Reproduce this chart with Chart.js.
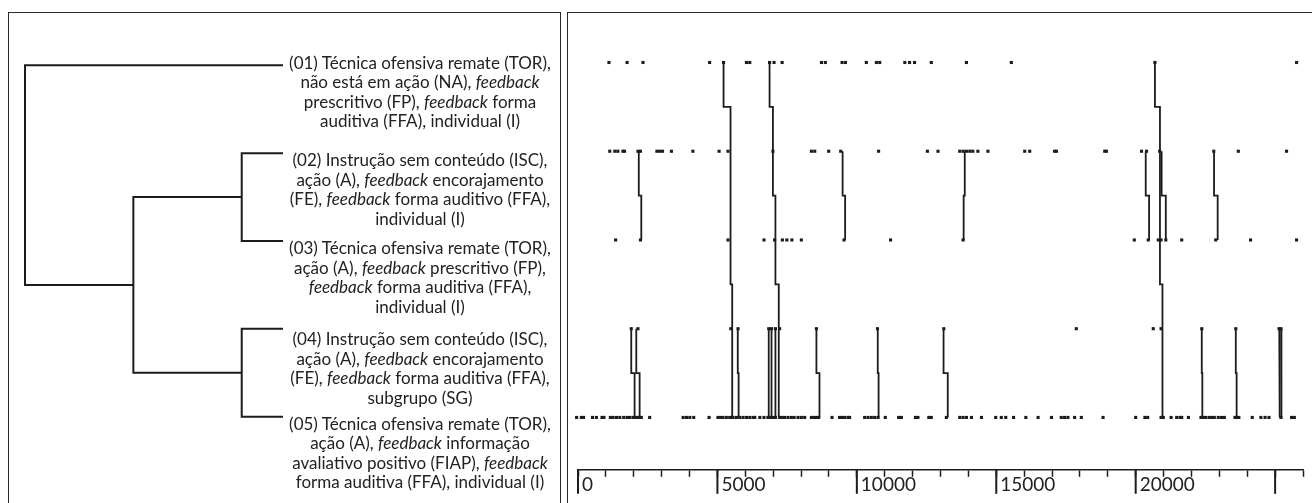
<!DOCTYPE html>
<html>
<head>
<meta charset="utf-8">
<script src="https://cdn.jsdelivr.net/npm/chart.js@4.4.1/dist/chart.umd.min.js"></script>
<style>
  html, body { margin: 0; padding: 0; background: #fff; width: 1312px; height: 503px; overflow: hidden; }
  .box { position: absolute; border: 1.5px solid #2a2a2a; box-sizing: border-box; }
  #leftBox  { left: 8px;   top: 12px; width: 553px; height: 520px; }
  #rightBox { left: 567px; top: 12px; width: 760px; height: 520px; }
  #dendro { position: absolute; left: 10px; top: 14px; }
  #events { position: absolute; left: 569px; top: 14px; }
  .lbl { position: absolute; left: 270px; width: 300px; text-align: center;
         font: 17px/19.5px Lato, sans-serif; color: #222; white-space: nowrap; }
</style>
</head>
<body>
<div class="box" id="leftBox"></div>
<div class="box" id="rightBox"></div>
<canvas id="dendro" width="300" height="470"></canvas>
<canvas id="events" width="743" height="489"></canvas>
<div id="labels"></div>

<script>
/* ── Dendrogram: 5 leaves, merged pairwise ── */
const leafRow = [1, 2, 3, 4, 5];
const leafText = [
  ['(01) Técnica ofensiva remate (TOR),', 'não está em ação (NA), *feedback*', 'prescritivo (FP), *feedback* forma', 'auditiva (FFA), individual (I)'],
  ['(02) Instrução sem conteúdo (ISC),', 'ação (A), *feedback* encorajamento', '(FE), *feedback* forma auditivo (FFA),', 'individual (I)'],
  ['(03) Técnica ofensiva remate (TOR),', 'ação (A), *feedback* prescritivo (FP),', '*feedback* forma auditiva (FFA),', 'individual (I)'],
  ['(04) Instrução sem conteúdo (ISC),', 'ação (A), *feedback* encorajamento', '(FE), *feedback* forma auditiva (FFA),', 'subgrupo (SG)'],
  ['(05) Técnica ofensiva remate (TOR),', 'ação (A), *feedback* informação', 'avaliativo positivo (FIAP), *feedback*', 'forma auditiva (FFA), individual (I)']
];
// node ids 0-4 are leaves, each merge creates the next id (5, 6, 7, 8)
const mergeA = [1, 3, 5, 0];
const mergeB = [2, 4, 6, 7];
const mergeHeight = [0.16, 0.16, 0.58, 1.0];

/* ── Event rows (time in the x unit of the axis) ── */
const row1Times = [1110, 1760, 2330, 4720, 5220, 6040, 6160, 6870, 7030, 7320, 8730, 8870, 9470, 9590, 10340, 10700, 10820,
  11720, 11890, 12070, 12670, 13930, 15540, 20690, 25770];
const row2Times = [1140, 1320, 1430, 1610, 1670, 2150, 2240, 2830, 2930, 3030, 3350, 4120, 5060, 5380, 6990, 8370, 8490,
  8990, 9420, 10780, 12530, 12910, 13690, 13810, 13930, 14050, 14160, 14340, 14700, 16020, 16200, 17090, 17160, 18890,
  18950, 20210, 20390, 20860, 22800, 23680, 25410];
const row3Times = [1350, 2240, 5380, 6670, 7050, 7330, 7490, 7670, 8010, 9540, 11210, 13810, 19950, 20450, 20810, 20910,
  21080, 21650, 22870, 24120, 25770];
const row4Times = [1910, 2150, 5480, 5740, 6840, 6940, 7080, 7230, 8550, 10740, 13120, 17870, 20630, 20910, 22370, 23590,
  25140, 25210];
const row5Times = [-50, 120, 200, 520, 660, 860, 930, 1160, 1260, 1380, 1500, 1640, 1760, 1850, 1970, 2070, 2150, 2210,
  2270, 2570, 3770, 3890, 4010, 4150, 4700, 5020, 5110, 5200, 5320, 5440, 5500, 5560, 5680, 5800, 5920, 6040, 6160, 6280,
  6340, 6520, 6670, 6810, 6910, 6990, 7080, 7230, 7320, 7410, 7530, 7650, 7750, 7890, 8010, 8130, 8370, 8460, 8550, 8630,
  9110, 9380, 9470, 9560, 9680, 9740, 10280, 10400, 10520, 10640, 10760, 11020, 11500, 11600, 12100, 12190, 12580, 12670,
  13210, 13690, 13810, 13930, 14110, 14470, 14980, 15180, 15340, 15620, 16060, 16500, 16980, 17330, 17450, 17570, 17810,
  18050, 18830, 20000, 20330, 20430, 20910, 20960, 20990, 21270, 21470, 21590, 21650, 21890, 22340, 22430, 22510, 22630,
  22720, 22820, 22960, 23080, 23180, 23560, 23620, 23700, 24180, 24490, 24640, 24780, 25210, 25590, 25690];

// pattern links: first row, then the time at each row it passes
const patterns = [
  { from: 1, t: [5220, 5470, 5470, 5530, 5530] },
  { from: 1, t: [6870, 6990, 7080, 7200, 7200] },
  { from: 1, t: [20690, 20870, 20870, 20960, 20960] },
  { from: 2, t: [2180, 2270] },
  { from: 2, t: [9490, 9580] },
  { from: 2, t: [13870, 13830] },
  { from: 2, t: [20360, 20480] },
  { from: 2, t: [20930, 21080] },
  { from: 2, t: [22810, 22940] },
  { from: 4, t: [1910, 2030] },
  { from: 4, t: [2090, 2210] },
  { from: 4, t: [5730, 5760] },
  { from: 4, t: [6840, 6840] },
  { from: 4, t: [6940, 6940] },
  { from: 4, t: [7080, 7080] },
  { from: 4, t: [8550, 8660] },
  { from: 4, t: [10750, 10780] },
  { from: 4, t: [13110, 13260] },
  { from: 4, t: [22370, 22390] },
  { from: 4, t: [23590, 23620] },
  { from: 4, t: [25150, 25170] },
  { from: 4, t: [25220, 25230] }
];

const axisMax = 26000;
const INK = '#1c1c1c';
Chart.defaults.font.family = 'Lato, sans-serif';

/* ══ Dendrogram chart ══ */
const nodeH = leafRow.map(() => 0);
const nodeY = leafRow.slice();
const dendroSets = [];
mergeA.forEach((a, k) => {
  const b = mergeB[k], h = mergeHeight[k];
  dendroSets.push({
    data: [
      { x: nodeH[a], y: nodeY[a] }, { x: h, y: nodeY[a] },
      { x: h, y: nodeY[b] }, { x: nodeH[b], y: nodeY[b] }
    ],
    showLine: true, borderColor: INK, borderWidth: 2, pointRadius: 0, tension: 0, clip: false
  });
  nodeH.push(h);
  nodeY.push((nodeY[a] + nodeY[b]) / 2);
});

const dendro = new Chart(document.getElementById('dendro'), {
  type: 'scatter',
  data: { datasets: dendroSets },
  options: {
    responsive: false, animation: false, events: [], devicePixelRatio: 1,
    layout: { padding: { left: 15, right: 27, top: 25, bottom: 41 } },
    plugins: { legend: { display: false }, tooltip: { enabled: false } },
    scales: {
      x: { type: 'linear', display: false, reverse: true, min: 0, max: 1 },
      y: { type: 'linear', display: false, reverse: true, min: 0.7, max: 5.3 }
    }
  }
});

// leaf labels, placed from the dendrogram's y scale
const firstLineShift = [-3, 7, 7, 10, 7];
const holder = document.getElementById('labels');
leafText.forEach((lines, i) => {
  const d = document.createElement('div');
  d.className = 'lbl';
  d.innerHTML = lines.map(s => s.replace(/\*(.+?)\*/g, '<i>$1</i>')).join('<br>');
  const yPx = 14 + dendro.scales.y.getPixelForValue(leafRow[i]);
  d.style.top = (yPx + firstLineShift[i] - 9.75) + 'px';
  holder.appendChild(d);
});

/* ══ Event / pattern chart ══ */
const rowTimes = [row1Times, row2Times, row3Times, row4Times, row5Times];
const dotSets = rowTimes.map((ts, i) => ({
  data: ts.map(t => ({ x: t, y: i + 1 })),
  pointStyle: 'rect', pointRadius: 2.2, pointBackgroundColor: INK, pointBorderWidth: 0,
  showLine: false, clip: false
}));

const linkSets = patterns.map(p => {
  const pts = [{ x: p.t[0], y: p.from }];
  for (let i = 0; i < p.t.length - 1; i++) {
    const r = p.from + i, mid = r + 0.5;
    pts.push({ x: p.t[i], y: mid }, { x: p.t[i + 1], y: mid }, { x: p.t[i + 1], y: r + 1 });
  }
  return { data: pts, showLine: true, borderColor: INK, borderWidth: 1.8, pointRadius: 0, tension: 0, clip: false };
});

// longer marks every 5000
const majorTicks = {
  id: 'majorTicks',
  afterDraw(chart) {
    const { ctx, chartArea, scales: { x } } = chart;
    ctx.save();
    ctx.strokeStyle = INK; ctx.lineWidth = 2;
    x.ticks.forEach(tk => {
      if (tk.value % 5000 !== 0) return;
      const px = x.getPixelForValue(tk.value);
      ctx.beginPath(); ctx.moveTo(px, chartArea.bottom); ctx.lineTo(px, chartArea.bottom + 24); ctx.stroke();
    });
    ctx.restore();
  }
};

new Chart(document.getElementById('events'), {
  type: 'scatter',
  data: { datasets: [...linkSets, ...dotSets] },
  options: {
    responsive: false, animation: false, events: [], devicePixelRatio: 1,
    layout: { padding: { left: 9, right: 9, top: 13, bottom: 11 } },
    plugins: { legend: { display: false }, tooltip: { enabled: false } },
    scales: {
      x: {
        type: 'linear', min: 0, max: axisMax, position: 'bottom',
        border: { display: true, color: INK, width: 1.5 },
        grid: { drawOnChartArea: false, drawTicks: true, tickLength: 7, tickColor: INK, tickWidth: 1.5 },
        ticks: {
          stepSize: 1000, autoSkip: false, maxRotation: 0, minRotation: 0, align: 'start', labelOffset: 4,
          padding: 0, color: '#222', font: { size: 19, lineHeight: 0.8 },
          callback: v => (v % 5000 === 0 && v <= 20000) ? String(v) : ''
        }
      },
      y: { type: 'linear', display: false, reverse: true, min: 0.6, max: 5.59 }
    }
  },
  plugins: [majorTicks]
});
</script>
</body>
</html>
